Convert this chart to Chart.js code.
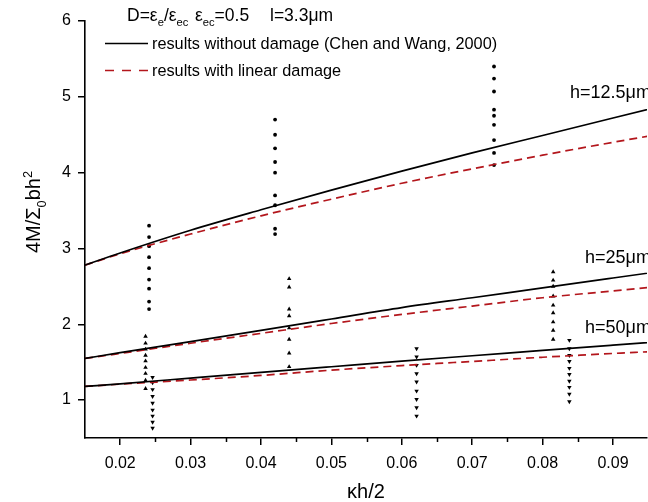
<!DOCTYPE html>
<html><head><meta charset="utf-8">
<script src="https://cdn.jsdelivr.net/npm/chart.js@4.4.1/dist/chart.umd.min.js"></script>
<style>
html,body{margin:0;padding:0;background:#fff;overflow:hidden;width:648px;height:502px}
#wrap{position:absolute;left:0;top:0;width:651px;height:502px}
</style>
</head><body><div id="wrap"><canvas id="c" width="651" height="502"></canvas></div>
<script>
// ---- model curves (κh/2 vs 4M/Σ0bh²) ----
const curveX      = [0.015, 0.02, 0.03, 0.04, 0.05, 0.06, 0.07, 0.08, 0.09, 0.10];
const noDamage125 = [2.78, 2.94, 3.24, 3.51, 3.77, 4.02, 4.26, 4.49, 4.72, 4.95];
const damage125   = [2.78, 2.93, 3.19, 3.43, 3.65, 3.86, 4.05, 4.23, 4.40, 4.56];
const noDamage25  = [1.55, 1.625, 1.77, 1.92, 2.07, 2.22, 2.35, 2.48, 2.61, 2.74];
const damage25    = [1.55, 1.615, 1.75, 1.88, 2.01, 2.13, 2.24, 2.35, 2.44, 2.53];
const noDamage50  = [1.18, 1.215, 1.29, 1.365, 1.44, 1.515, 1.585, 1.655, 1.725, 1.795];
const damage50    = [1.18, 1.21, 1.265, 1.325, 1.395, 1.455, 1.51, 1.565, 1.615, 1.66];

// ---- experimental points ----
const circleX = [0.0241, 0.0420, 0.0731];
const circleY = [
  [3.30, 3.15, 3.03, 2.885, 2.74, 2.59, 2.47, 2.30, 2.20],
  [4.70, 4.50, 4.32, 4.14, 4.00, 3.70, 3.57, 3.26, 3.19],
  [5.40, 5.24, 5.07, 4.83, 4.75, 4.63, 4.43, 4.26, 4.10]
];
const upX = [0.0236, 0.0440, 0.0815];
const upY = [
  [1.84, 1.75, 1.67, 1.59, 1.515, 1.43, 1.35, 1.26, 1.15],
  [2.60, 2.49, 2.20, 2.11, 1.95, 1.80, 1.62, 1.44],
  [2.69, 2.58, 2.50, 2.37, 2.25, 2.15, 2.03, 1.92, 1.80]
];
const downX = [0.0246, 0.0621, 0.0838];
const downY = [
  [1.30, 1.23, 1.14, 1.05, 0.96, 0.87, 0.79, 0.71, 0.63],
  [1.68, 1.57, 1.46, 1.35, 1.24, 1.12, 1.01, 0.90, 0.79],
  [1.79, 1.68, 1.59, 1.51, 1.42, 1.34, 1.25, 1.17, 1.08, 0.98]
];

// ---- axis ticks ----
const xTicks = [0.02, 0.025, 0.03, 0.035, 0.04, 0.045, 0.05, 0.055, 0.06, 0.065, 0.07, 0.075, 0.08, 0.085, 0.09];
const yTicks = [1, 2, 3, 4, 5, 6];

const FONT = '"Liberation Sans", Arial, Helvetica, sans-serif';
const RED = '#b3161c';

function pts(xs, ys) { return xs.map((x, i) => ({ x: x, y: ys[i] })); }
function col(x, ys) { return ys.map(y => ({ x: x, y: y })); }
function isMajor(v) { return Math.abs(Math.round(v * 100) - v * 100) < 1e-6; }

const datasets = [];
[[noDamage125, damage125], [noDamage25, damage25], [noDamage50, damage50]].forEach(([a, b]) => {
  datasets.push({ data: pts(curveX, a), showLine: true, borderColor: '#000', borderWidth: 1.7, pointRadius: 0, cubicInterpolationMode: 'monotone', fill: false });
  datasets.push({ data: pts(curveX, b), showLine: true, borderColor: RED, borderWidth: 1.7, borderDash: [8, 5], pointRadius: 0, cubicInterpolationMode: 'monotone', fill: false });
});
circleX.forEach((x, i) => datasets.push({ data: col(x, circleY[i]), pointStyle: 'circle', pointRadius: 1.9, backgroundColor: '#000', borderColor: '#000', borderWidth: 0 }));
upX.forEach((x, i) => datasets.push({ data: col(x, upY[i]), pointStyle: 'triangle', pointRadius: 2.6, backgroundColor: '#000', borderColor: '#000', borderWidth: 0 }));
downX.forEach((x, i) => datasets.push({ data: col(x, downY[i]), pointStyle: 'triangle', rotation: 180, pointRadius: 2.6, backgroundColor: '#000', borderColor: '#000', borderWidth: 0 }));

function drawRich(ctx, x, y, parts, size) {
  ctx.save();
  ctx.fillStyle = '#000';
  ctx.textBaseline = 'alphabetic';
  ctx.textAlign = 'left';
  let cx = x;
  for (const [t, m] of parts) {
    const fs = m ? size * 0.64 : size;
    ctx.font = fs + 'px ' + FONT;
    const dy = m === 'sub' ? size * 0.28 : (m === 'sup' ? -size * 0.42 : 0);
    ctx.fillText(t, cx, y + dy);
    cx += ctx.measureText(t).width;
  }
  ctx.restore();
  return cx - x;
}
function richWidth(ctx, parts, size) {
  let w = 0;
  for (const [t, m] of parts) {
    ctx.font = (m ? size * 0.64 : size) + 'px ' + FONT;
    w += ctx.measureText(t).width;
  }
  return w;
}

const annotations = {
  id: 'annotations',
  afterDraw(chart) {
    const ctx = chart.ctx;
    const xs = chart.scales.x, ys = chart.scales.y;
    // minor x ticks
    ctx.save();
    ctx.strokeStyle = '#000';
    ctx.lineWidth = 1.5;
    xTicks.filter(v => !isMajor(v)).forEach(v => {
      const px = Math.round(xs.getPixelForValue(v)) + 0.5;
      ctx.beginPath(); ctx.moveTo(px, ys.bottom); ctx.lineTo(px, ys.bottom + 4); ctx.stroke();
    });
    ctx.restore();

    // header annotation
    drawRich(ctx, 127, 21, [['D=ε', 0], ['e', 'sub'], ['/ε', 0], ['ec', 'sub']], 17.5);
    drawRich(ctx, 195, 21, [['ε', 0], ['ec', 'sub'], ['=0.5', 0]], 17.5);
    drawRich(ctx, 270, 21, [['l=3.3μm', 0]], 17.5);

    // legend
    ctx.save();
    ctx.lineWidth = 1.7;
    ctx.strokeStyle = '#000';
    ctx.beginPath(); ctx.moveTo(105, 43.5); ctx.lineTo(148, 43.5); ctx.stroke();
    ctx.strokeStyle = RED;
    ctx.setLineDash([9, 8]);
    ctx.beginPath(); ctx.moveTo(105, 70.5); ctx.lineTo(148, 70.5); ctx.stroke();
    ctx.restore();
    drawRich(ctx, 152, 49, [['results without damage (Chen and Wang, 2000)', 0]], 16.3);
    drawRich(ctx, 152, 76, [['results with linear damage', 0]], 16.3);

    // curve labels
    drawRich(ctx, 570, 98, [['h=12.5μm', 0]], 18);
    drawRich(ctx, 585, 263, [['h=25μm', 0]], 18);
    drawRich(ctx, 585, 333, [['h=50μm', 0]], 18);

    // y-axis title
    const parts = [['4M/Σ', 0], ['0', 'sub'], ['bh', 0], ['2', 'sup']];
    const w = richWidth(ctx, parts, 20);
    ctx.save();
    ctx.translate(33, 212);
    ctx.rotate(-Math.PI / 2);
    drawRich(ctx, -w / 2, 7, parts, 20);
    ctx.restore();
  }
};

new Chart(document.getElementById('c'), {
  type: 'scatter',
  data: { datasets: datasets },
  options: {
    responsive: false,
    animation: false,
    layout: { padding: { top: 21, left: 0, right: 0, bottom: 0 } },
    plugins: { legend: { display: false }, tooltip: { enabled: false } },
    scales: {
      x: {
        type: 'linear',
        min: 0.015,
        max: 0.09483,
        afterBuildTicks: s => { s.ticks = xTicks.map(v => ({ value: v })); },
        afterFit: s => { s.height = 64; },
        ticks: {
          autoSkip: false, maxRotation: 0, padding: 9, color: '#000',
          font: { family: FONT, size: 16 },
          callback: v => isMajor(v) ? v.toFixed(2) : ''
        },
        grid: {
          display: true, drawOnChartArea: false, drawTicks: true, tickLength: 7, lineWidth: 1.5,
          color: c => (c.tick && isMajor(c.tick.value)) ? '#000' : 'rgba(0,0,0,0)',
          tickColor: c => (c.tick && isMajor(c.tick.value)) ? '#000' : 'rgba(0,0,0,0)'
        },
        border: { display: true, color: '#000', width: 1.6 },
        title: { display: true, text: 'κh/2', color: '#000', font: { family: FONT, size: 20 }, padding: { top: 0, bottom: -2 } }
      },
      y: {
        type: 'linear',
        min: 0.5,
        max: 6,
        afterBuildTicks: s => { s.ticks = yTicks.map(v => ({ value: v })); },
        afterFit: s => { s.width = 85; },
        ticks: { padding: 7, color: '#000', font: { family: FONT, size: 16 }, callback: v => String(v) },
        grid: { display: true, drawOnChartArea: false, drawTicks: true, tickLength: 7, lineWidth: 1.5, color: '#000', tickColor: '#000' },
        border: { display: true, color: '#000', width: 1.6 },
        title: { display: false }
      }
    }
  },
  plugins: [annotations]
});
</script>
</body></html>
